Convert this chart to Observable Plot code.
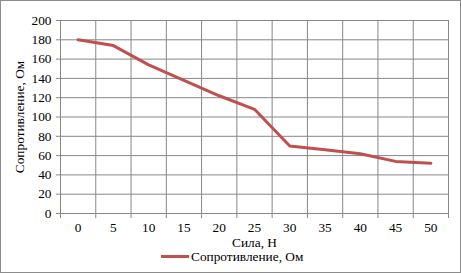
<!DOCTYPE html>
<html><head><meta charset="utf-8">
<script src="https://cdn.jsdelivr.net/npm/d3@7"></script>
<script src="https://cdn.jsdelivr.net/npm/@observablehq/plot@0.6"></script>
<style>
body{margin:0;background:#fff;}
#wrap{position:relative;width:461px;height:273px;font-family:'Liberation Serif';}
#border{position:absolute;left:0;top:0;width:461px;height:273px;box-sizing:border-box;border:1px solid #8c8c8c;pointer-events:none;}
#chart{position:absolute;left:0;top:0;}
#legend{position:absolute;left:161px;top:250px;display:flex;align-items:center;font-family:'Liberation Serif';font-size:13.33px;line-height:13px;color:#000;white-space:nowrap;}
#legend .sw{width:28px;height:3px;background:#C0504D;margin-right:2px;}
</style></head>
<body>
<div id="wrap"><div id="chart"></div><div id="legend"><span class="sw"></span><span>Сопротивление, Ом</span></div><div id="border"></div></div>
<script>
const forces = [0, 5, 10, 15, 20, 25, 30, 35, 40, 45, 50];
const resistance = [180, 174, 154, 138, 122, 108, 70, 66, 62, 54, 52];
const yTicks = [0, 20, 40, 60, 80, 100, 120, 140, 160, 180, 200];
const xLabel = "Сила, Н";
const yLabel = "Сопротивление, Ом";

const data = forces.map((f, i) => ({f, r: resistance[i]}));
const half = (forces[1] - forces[0]) / 2;
const bounds = [...forces.map(f => f - half), forces[forces.length - 1] + half];
const grid = "#878787";

const chart = Plot.plot({
  width: 461, height: 250,
  marginLeft: 60, marginRight: 13, marginTop: 20, marginBottom: 37,
  style: {fontFamily: "Liberation Serif", fontSize: "13.33px", color: "#000", background: "transparent"},
  x: {domain: [bounds[0], bounds[bounds.length - 1]], axis: null},
  y: {domain: [0, 200], axis: null},
  marks: [
    Plot.gridY(yTicks, {stroke: grid, strokeOpacity: 1}),
    Plot.gridX(bounds, {stroke: grid, strokeOpacity: 1}),
    Plot.axisY(yTicks, {tickSize: 4, tickPadding: 5, stroke: grid, fill: "#000", label: yLabel, labelAnchor: "center", labelArrow: "none", labelOffset: 46}),
    Plot.axisX(bounds, {tickSize: 5, tickFormat: () => "", stroke: grid, label: null}),
    Plot.axisX(forces, {tickSize: 0, tickPadding: 9, fill: "#000", label: xLabel, labelAnchor: "center", labelArrow: "none", labelOffset: 33}),
    Plot.line(data, {x: "f", y: "r", stroke: "#C0504D", strokeWidth: 3})
  ]
});
document.getElementById("chart").appendChild(chart);
</script>
</body></html>
